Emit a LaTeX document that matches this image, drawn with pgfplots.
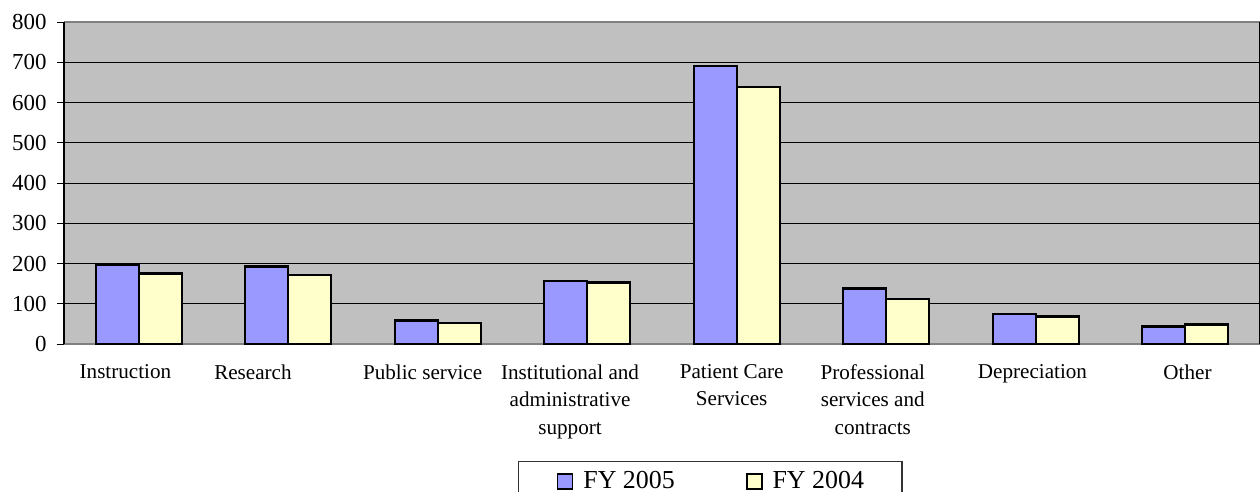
\documentclass[border=0pt]{standalone}
\usepackage{fontspec}
\setmainfont{Liberation Serif}
\usepackage{pgfplots}
\pgfplotsset{compat=1.18}

\definecolor{fyblue}{HTML}{9999FF}
\definecolor{fyyellow}{HTML}{FFFFCC}
\definecolor{plotgray}{HTML}{C0C0C0}

\begin{document}
\begin{tikzpicture}
% page = the reference frame (1 px = 0.5 bp), axis box lower left at (0,0)
\path[use as bounding box] (-32bp,-74bp) rectangle (598bp,172bp);
\begin{axis}[
  scale only axis,
  width=598bp, height=161bp,
  xmin=-0.5, xmax=7.5,
  ymin=0, ymax=800,
  ytick={0,100,...,800},
  % label positions follow the reference (slightly left of the bar groups)
  xtick={-0.089,0.764,1.899,2.885,3.966,4.910,5.978,7.015},
  xticklabels={Instruction, Research, Public service,
    {Institutional and\\administrative\\support},
    {Patient Care\\Services},
    {Professional\\services and\\contracts},
    Depreciation, Other},
  xtick style={draw=none},
  xticklabel style={anchor=north, align=center, inner sep=0pt, yshift=-6.5bp,
    font=\fontsize{10.6}{13.8}\selectfont},
  yticklabel style={anchor=east, inner sep=0pt, xshift=-5bp,
    font=\fontsize{11.5}{13}\selectfont},
  /pgf/number format/assume math mode=true,
  tick align=outside,
  major tick length=3.5bp,
  ytick style={black, line width=0.5bp},
  ymajorgrids,
  major grid style={black, line width=0.5bp},
  axis background/.style={fill=plotgray},
  separate axis lines,
  x axis line style={draw=gray, line width=0.8bp},
  y axis line style={draw=black, line width=0.6bp},
  legend columns=2,
  legend style={at={(0.3796,-0.3634)}, anchor=north west,
    draw=black!80, line width=0.6bp,
    font=\fontsize{13}{15}\selectfont,
    inner xsep=19bp, inner ysep=4.8bp,
    nodes={inner sep=0pt},
    /tikz/every odd column/.style={column sep=5bp},
    /tikz/every even column/.style={column sep=35.5bp}},
  legend image code/.code={\draw[#1, line width=0.9bp] (0bp,-3.75bp) rectangle (7.5bp,3.75bp);},
]
\addplot[ybar, bar width=0.2876, bar shift=-0.1438, fill=fyblue, draw=black, line width=1.2bp]
  coordinates {(0,197) (1,193) (2,58) (3,157) (4,691) (5,138) (6,74) (7,43)};
\addplot[ybar, bar width=0.2876, bar shift=0.1438, fill=fyyellow, draw=black, line width=1.2bp]
  coordinates {(0,175) (1,172) (2,52) (3,153) (4,639) (5,112) (6,68) (7,48)};
\legend{FY 2005, FY 2004}
\end{axis}
\end{tikzpicture}
\end{document}
